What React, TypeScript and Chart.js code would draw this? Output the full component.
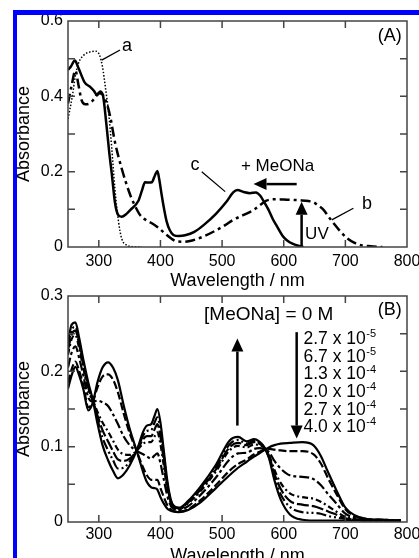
import { useEffect, useRef } from 'react';
import { Chart, registerables } from 'chart.js';
Chart.register(...registerables);

const FONT = "'Liberation Sans', Arial, Helvetica, sans-serif";

// ---------- Panel A data ----------
const wlA_c = [250,255,261,267,277,286,292,297,302,307,312,317,321,326,331,337,345,351,364,370,375,381,386,391,395,398,402,406,410,415,421,430,440,455,470,490,507,518,525,535,545,555,562,568,575,582,590,598,605,615,625,632];
const absA_c = [0.470,0.480,0.495,0.475,0.437,0.425,0.415,0.403,0.413,0.400,0.330,0.250,0.195,0.120,0.086,0.080,0.088,0.098,0.122,0.150,0.172,0.171,0.172,0.190,0.202,0.180,0.138,0.100,0.068,0.045,0.032,0.029,0.031,0.040,0.058,0.088,0.120,0.145,0.151,0.146,0.143,0.145,0.136,0.120,0.100,0.075,0.052,0.030,0.018,0.008,0.003,0.000];

const wlA_b = [250,256,262,267,272,278,285,292,300,306,312,318,326,337,351,360,367,376,386,396,403,410,418,426,438,453,470,491,505,518,535,551,562,572,585,600,615,627,640,648,656,665,672,681,690,703,715,725,741,760];
const absA_b = [0.381,0.430,0.468,0.430,0.390,0.379,0.381,0.392,0.408,0.405,0.385,0.350,0.280,0.209,0.138,0.105,0.085,0.072,0.063,0.052,0.042,0.032,0.022,0.015,0.014,0.018,0.028,0.045,0.058,0.072,0.085,0.098,0.112,0.123,0.127,0.126,0.125,0.124,0.122,0.119,0.110,0.098,0.082,0.063,0.045,0.023,0.011,0.005,0.002,0.000];

const wlA_a = [250,257,262,267,276,286,295,301,306,311,316,321,326,332,337,345,355,370];
const absA_a = [0.340,0.400,0.455,0.488,0.510,0.518,0.520,0.510,0.478,0.420,0.355,0.262,0.156,0.067,0.023,0.005,0.001,0.000];

// ---------- Panel B data ----------
const wlB = [250,256,262,268,275,283,290,298,306,315,323,331,340,350,362,372,378,385,390,395,400,405,412,420,430,445,465,490,512,526,540,552,560,568,576,585,595,610,630,648,660,672,685,700,715,735,760,790];
const absB_0 = [0.177,0.195,0.206,0.195,0.176,0.148,0.158,0.186,0.205,0.212,0.205,0.188,0.156,0.124,0.093,0.066,0.053,0.046,0.045,0.043,0.033,0.025,0.017,0.014,0.013,0.016,0.026,0.045,0.062,0.072,0.080,0.087,0.091,0.095,0.099,0.102,0.104,0.105,0.106,0.102,0.088,0.066,0.043,0.019,0.009,0.004,0.003,0.002];
const absB_27e5 = [0.185,0.203,0.213,0.201,0.181,0.152,0.159,0.179,0.193,0.196,0.189,0.172,0.145,0.118,0.093,0.072,0.062,0.056,0.056,0.056,0.045,0.034,0.021,0.015,0.014,0.017,0.029,0.049,0.068,0.077,0.083,0.090,0.093,0.096,0.097,0.096,0.095,0.094,0.094,0.090,0.078,0.058,0.038,0.017,0.008,0.004,0.003,0.002];
const absB_67e5 = [0.205,0.225,0.233,0.218,0.194,0.165,0.160,0.161,0.159,0.154,0.143,0.130,0.114,0.102,0.094,0.090,0.087,0.084,0.088,0.091,0.078,0.058,0.032,0.018,0.016,0.021,0.036,0.059,0.083,0.091,0.092,0.097,0.098,0.097,0.093,0.081,0.071,0.062,0.060,0.057,0.049,0.037,0.025,0.011,0.006,0.003,0.003,0.002];
const absB_13e4 = [0.222,0.243,0.248,0.231,0.204,0.174,0.162,0.146,0.132,0.120,0.108,0.096,0.090,0.089,0.095,0.104,0.106,0.106,0.113,0.119,0.103,0.077,0.040,0.020,0.017,0.025,0.041,0.067,0.095,0.101,0.099,0.103,0.102,0.099,0.089,0.069,0.052,0.038,0.033,0.031,0.027,0.021,0.014,0.007,0.004,0.003,0.002,0.002];
const absB_20e4 = [0.228,0.249,0.254,0.236,0.208,0.178,0.162,0.141,0.122,0.107,0.094,0.083,0.081,0.084,0.095,0.110,0.114,0.114,0.122,0.130,0.113,0.084,0.044,0.021,0.018,0.026,0.043,0.070,0.099,0.105,0.102,0.106,0.104,0.099,0.088,0.064,0.044,0.028,0.023,0.021,0.018,0.014,0.010,0.005,0.003,0.002,0.002,0.002];
const absB_27e4 = [0.234,0.255,0.259,0.240,0.211,0.181,0.163,0.136,0.112,0.095,0.082,0.071,0.072,0.080,0.096,0.115,0.121,0.122,0.131,0.139,0.122,0.091,0.047,0.022,0.018,0.027,0.045,0.073,0.103,0.109,0.104,0.108,0.105,0.100,0.086,0.060,0.037,0.020,0.013,0.012,0.011,0.008,0.006,0.004,0.003,0.002,0.002,0.002];
const absB_40e4 = [0.240,0.262,0.265,0.245,0.215,0.185,0.163,0.130,0.102,0.082,0.068,0.058,0.063,0.075,0.096,0.120,0.128,0.130,0.140,0.150,0.132,0.098,0.050,0.023,0.019,0.028,0.047,0.076,0.108,0.113,0.107,0.110,0.107,0.100,0.085,0.055,0.030,0.010,0.003,0.002,0.002,0.002,0.002,0.002,0.002,0.002,0.002,0.002];

const concBase = ['2.7 x 10', '6.7 x 10', '1.3 x 10', '2.0 x 10', '2.7 x 10', '4.0 x 10'];
const concExp = ['-5', '-5', '-4', '-4', '-4', '-4'];

// ---------- Ticks ----------
const xTicks = [300, 400, 500, 600, 700, 800];
const xTickLabels = ['300', '400', '500', '600', '700', '800'];
const yTicksA = [0, 0.1, 0.2, 0.3, 0.4, 0.5, 0.6];
const yTickLabelsA = ['0', '', '0.2', '', '0.4', '', '0.6'];
const yTicksB = [0, 0.05, 0.1, 0.15, 0.2, 0.25, 0.3];
const yTickLabelsB = ['0', '', '0.1', '', '0.2', '', '0.3'];

type Ann =
  | { kind: 'text'; x: number; y: number; text: string; align: CanvasTextAlign; size: number }
  | { kind: 'line'; x1: number; y1: number; x2: number; y2: number }
  | { kind: 'arrow'; x1: number; y1: number; x2: number; y2: number }
  | { kind: 'suplist'; x: number; y: number; step: number; base: string[]; exp: string[] };

const annA: Ann[] = [
  { kind: 'text', x: 345.8, y: 0.534, text: 'a', align: 'center', size: 18 },
  { kind: 'line', x1: 304.7, y1: 0.496, x2: 334.4, y2: 0.523 },
  { kind: 'text', x: 456, y: 0.218, text: 'c', align: 'center', size: 18 },
  { kind: 'line', x1: 467, y1: 0.2, x2: 505, y2: 0.147 },
  { kind: 'text', x: 735, y: 0.114, text: 'b', align: 'center', size: 18 },
  { kind: 'line', x1: 678, y1: 0.072, x2: 713, y2: 0.103 },
  { kind: 'text', x: 590, y: 0.213, text: '+ MeONa', align: 'center', size: 17 },
  { kind: 'arrow', x1: 621, y1: 0.167, x2: 551, y2: 0.167 },
  { kind: 'arrow', x1: 629, y1: 0, x2: 629, y2: 0.12 },
  { kind: 'text', x: 634.7, y: 0.033, text: 'UV', align: 'left', size: 17 },
  { kind: 'text', x: 791.6, y: 0.561, text: '(A)', align: 'right', size: 18 },
];

const annB: Ann[] = [
  { kind: 'text', x: 791.6, y: 0.281, text: '(B)', align: 'right', size: 18 },
  { kind: 'text', x: 470.8, y: 0.2757, text: '[MeONa] = 0 M', align: 'left', size: 19 },
  { kind: 'suplist', x: 632, y: 0.2424, step: 17.6, base: concBase, exp: concExp },
  { kind: 'arrow', x1: 524.8, y1: 0.128, x2: 524.8, y2: 0.2435 },
  { kind: 'arrow', x1: 621, y1: 0.252, x2: 621, y2: 0.1107 },
];

function drawArrow(ctx: CanvasRenderingContext2D, x1: number, y1: number, x2: number, y2: number) {
  const ang = Math.atan2(y2 - y1, x2 - x1);
  const hl = 13, hw = 6;
  const bx = x2 - hl * Math.cos(ang), by = y2 - hl * Math.sin(ang);
  ctx.lineWidth = 2.5;
  ctx.setLineDash([]);
  ctx.beginPath();
  ctx.moveTo(x1, y1);
  ctx.lineTo(bx, by);
  ctx.stroke();
  ctx.beginPath();
  ctx.moveTo(x2, y2);
  ctx.lineTo(bx + hw * Math.sin(ang), by - hw * Math.cos(ang));
  ctx.lineTo(bx - hw * Math.sin(ang), by + hw * Math.cos(ang));
  ctx.closePath();
  ctx.fill();
}

function makeAnnPlugin(anns: Ann[]) {
  return {
    id: 'ann',
    afterDatasetsDraw(chart: any) {
      const { ctx } = chart;
      const xs = chart.scales.x, ys = chart.scales.y;
      const px = (v: number) => xs.getPixelForValue(v);
      const py = (v: number) => ys.getPixelForValue(v);
      ctx.save();
      ctx.fillStyle = '#000';
      ctx.strokeStyle = '#000';
      ctx.textBaseline = 'middle';
      for (const a of anns) {
        if (a.kind === 'text') {
          ctx.font = `${a.size}px ${FONT}`;
          ctx.textAlign = a.align;
          ctx.fillText(a.text, px(a.x), py(a.y));
        } else if (a.kind === 'line') {
          ctx.lineWidth = 1.3;
          ctx.beginPath();
          ctx.moveTo(px(a.x1), py(a.y1));
          ctx.lineTo(px(a.x2), py(a.y2));
          ctx.stroke();
        } else if (a.kind === 'arrow') {
          drawArrow(ctx, px(a.x1), py(a.y1), px(a.x2), py(a.y2));
        } else if (a.kind === 'suplist') {
          const x0 = px(a.x);
          let y0 = py(a.y);
          ctx.textAlign = 'left';
          for (let i = 0; i < a.base.length; i++) {
            ctx.font = `17.5px ${FONT}`;
            ctx.fillText(a.base[i], x0, y0);
            const w = ctx.measureText(a.base[i]).width;
            ctx.font = `11px ${FONT}`;
            ctx.fillText(a.exp[i], x0 + w + 0.5, y0 - 5);
            y0 += a.step;
          }
        }
      }
      ctx.restore();
    },
  };
}

function makeFramePlugin(yTicks: number[]) {
  return {
    id: 'frame',
    afterDatasetsDraw(chart: any) {
      const { ctx, chartArea } = chart;
      const { left, right, top, bottom } = chartArea;
      const xs = chart.scales.x, ys = chart.scales.y;
      ctx.save();
      ctx.strokeStyle = '#444';
      ctx.lineWidth = 1.5;
      ctx.setLineDash([]);
      ctx.strokeRect(left, top, right - left, bottom - top);
      const tl = 7;
      ctx.beginPath();
      for (const v of xTicks) {
        const x = xs.getPixelForValue(v);
        if (x <= left + 1 || x >= right - 1) continue;
        ctx.moveTo(x, bottom); ctx.lineTo(x, bottom - tl);
        ctx.moveTo(x, top); ctx.lineTo(x, top + tl);
      }
      for (const v of yTicks) {
        const y = ys.getPixelForValue(v);
        if (y <= top + 1 || y >= bottom - 1) continue;
        ctx.moveTo(left, y); ctx.lineTo(left + tl, y);
        ctx.moveTo(right, y); ctx.lineTo(right - tl, y);
      }
      ctx.stroke();
      ctx.restore();
    },
  };
}

const zip = (xs: number[], ys: number[]) => xs.map((x, i) => ({ x, y: ys[i] }));

function ds(xs: number[], ys: number[], width: number, dash: number[]) {
  return {
    data: zip(xs, ys),
    borderColor: '#000',
    borderWidth: width,
    borderDash: dash,
    pointRadius: 0,
    fill: false,
    cubicInterpolationMode: 'monotone' as const,
  };
}

function makeConfig(opts: {
  datasets: any[];
  yMax: number;
  yTicks: number[];
  yLabels: string[];
  top: number;
  bottom: number;
  canvasH: number;
  xAxisH: number;
  tickPad: number;
  anns: Ann[];
}): any {
  const padBottom = opts.canvasH - opts.bottom - opts.xAxisH;
  return {
    type: 'line',
    data: { datasets: opts.datasets },
    options: {
      responsive: false,
      animation: false,
      devicePixelRatio: 1,
      events: [],
      layout: { padding: { left: 0, right: 12, top: opts.top, bottom: padBottom } },
      plugins: { legend: { display: false }, tooltip: { enabled: false } },
      scales: {
        x: {
          type: 'linear',
          min: 250,
          max: 800,
          afterBuildTicks: (s: any) => { s.ticks = xTicks.map((v) => ({ value: v })); },
          afterFit: (s: any) => { s.height = opts.xAxisH; s.paddingLeft = 0; s.paddingRight = 0; },
          ticks: {
            autoSkip: false,
            maxRotation: 0,
            padding: opts.tickPad,
            color: '#000',
            font: { family: FONT, size: 16 },
            callback: (v: number) => xTickLabels[xTicks.indexOf(v)] ?? '',
          },
          grid: { display: false, drawTicks: false },
          border: { display: false },
          title: { display: true, text: 'Wavelength / nm', color: '#000', font: { family: FONT, size: 18 }, padding: 0 },
        },
        y: {
          type: 'linear',
          min: 0,
          max: opts.yMax,
          afterBuildTicks: (s: any) => { s.ticks = opts.yTicks.map((v) => ({ value: v })); },
          afterFit: (s: any) => { s.width = 68; s.paddingTop = 0; s.paddingBottom = 0; },
          ticks: {
            autoSkip: false,
            padding: 5,
            color: '#000',
            font: { family: FONT, size: 16 },
            callback: (v: number) => {
              const i = opts.yTicks.findIndex((t) => Math.abs(t - v) < 1e-9);
              return i >= 0 ? opts.yLabels[i] : '';
            },
          },
          grid: { display: false, drawTicks: false },
          border: { display: false },
          title: { display: true, text: 'Absorbance', color: '#000', font: { family: FONT, size: 18 }, padding: { top: 13, bottom: 0 } },
        },
      },
    },
    plugins: [makeAnnPlugin(opts.anns), makeFramePlugin(opts.yTicks)],
  };
}

const CANVAS_W = 419;
const CANVAS_H = 580;

export default function App() {
  const refA = useRef<HTMLCanvasElement>(null);
  const refB = useRef<HTMLCanvasElement>(null);

  useEffect(() => {
    const chartA = new Chart(refA.current as HTMLCanvasElement, makeConfig({
      datasets: [
        ds(wlA_a, absA_a, 1.5, [1.5, 1.8]),
        ds(wlA_b, absA_b, 2.5, [10, 4, 3, 4]),
        ds(wlA_c, absA_c, 2.5, []),
      ],
      yMax: 0.6,
      yTicks: yTicksA,
      yLabels: yTickLabelsA,
      top: 21,
      bottom: 247,
      canvasH: CANVAS_H,
      xAxisH: 45,
      tickPad: 5,
      anns: annA,
    }));
    const chartB = new Chart(refB.current as HTMLCanvasElement, makeConfig({
      datasets: [
        ds(wlB, absB_0, 2.2, []),
        ds(wlB, absB_27e5, 2.2, [8, 3]),
        ds(wlB, absB_67e5, 2.2, [10, 3, 3, 3]),
        ds(wlB, absB_13e4, 2.2, [6, 3, 2, 3]),
        ds(wlB, absB_20e4, 2.2, [12, 3]),
        ds(wlB, absB_27e4, 2.2, [10, 3, 2, 3, 2, 3]),
        ds(wlB, absB_40e4, 2.2, []),
      ],
      yMax: 0.3,
      yTicks: yTicksB,
      yLabels: yTickLabelsB,
      top: 296,
      bottom: 522,
      canvasH: CANVAS_H,
      xAxisH: 45,
      tickPad: 3,
      anns: annB,
    }));
    return () => {
      chartA.destroy();
      chartB.destroy();
    };
  }, []);

  return (
    <div style={{ position: 'fixed', left: 0, top: 0, width: 419, height: 558, overflow: 'hidden', background: '#fff' }}>
      <canvas ref={refA} width={CANVAS_W} height={CANVAS_H} style={{ position: 'absolute', left: 0, top: 0 }} />
      <canvas ref={refB} width={CANVAS_W} height={CANVAS_H} style={{ position: 'absolute', left: 0, top: 0 }} />
      <div style={{ position: 'absolute', left: 13, top: 10, width: 406, height: 5, background: '#0000ff' }} />
      <div style={{ position: 'absolute', left: 13, top: 10, width: 4, height: 548, background: '#0000ff' }} />
    </div>
  );
}
